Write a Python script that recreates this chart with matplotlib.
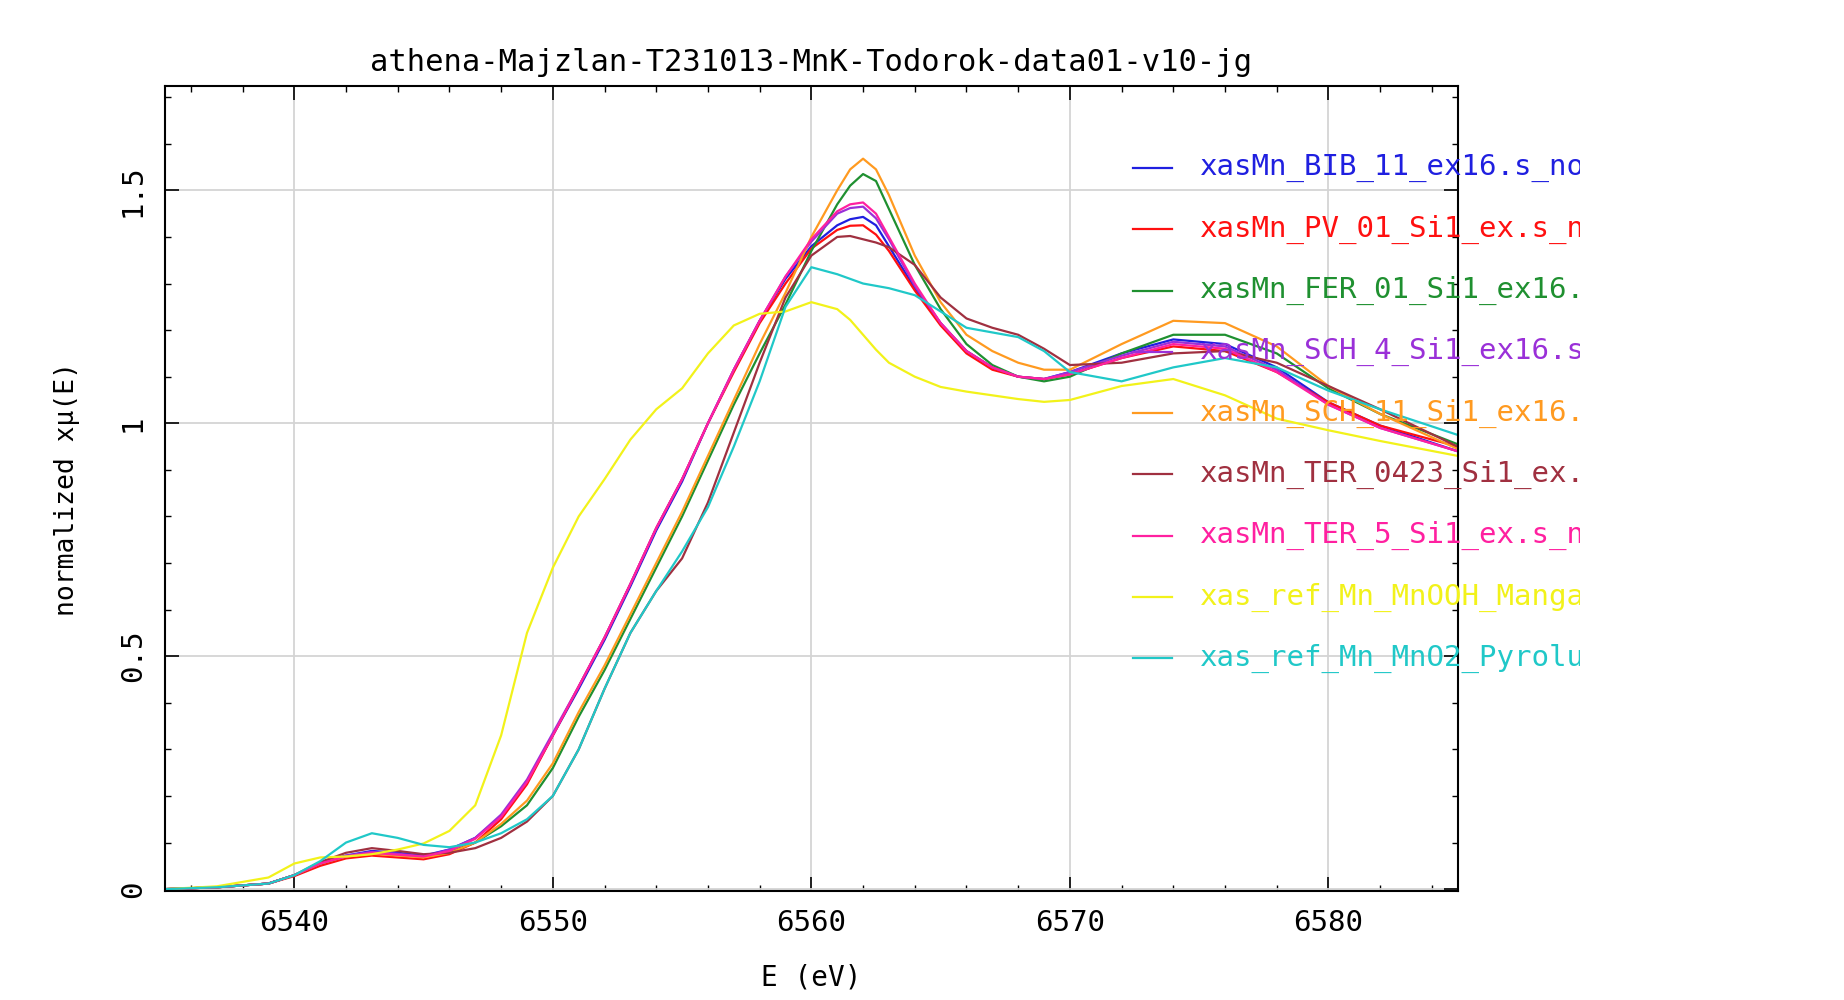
import matplotlib
matplotlib.use('Agg')
import matplotlib.pyplot as plt
from matplotlib.lines import Line2D
from matplotlib.transforms import Bbox, TransformedBbox
from matplotlib.ticker import MultipleLocator, FormatStrFormatter

plt.rcParams['font.family'] = ['DejaVu Sans Mono', 'DejaVu Sans']

# energy grid (eV)
energy = [6535, 6537, 6539, 6540, 6541, 6542, 6543, 6544, 6545, 6546,
          6547, 6548, 6549, 6550, 6551, 6552, 6553, 6554, 6555, 6556,
          6557, 6558, 6559, 6560, 6561, 6561.5, 6562, 6562.5, 6563, 6564,
          6565, 6566, 6567, 6568, 6569, 6570, 6572, 6574, 6576, 6578,
          6580, 6582, 6585]

bib_11 = [0.0, 0.004, 0.012, 0.03, 0.055, 0.072, 0.082, 0.078, 0.072, 0.085,
          0.11, 0.156, 0.23, 0.33, 0.43, 0.535, 0.65, 0.77, 0.875, 1.0,
          1.115, 1.22, 1.31, 1.38, 1.425, 1.438, 1.443, 1.425, 1.38, 1.29,
          1.215, 1.155, 1.12, 1.10, 1.095, 1.11, 1.15, 1.18, 1.17, 1.12,
          1.045, 0.995, 0.94]
pv_01 = [0.0, 0.004, 0.012, 0.028, 0.05, 0.066, 0.072, 0.068, 0.064, 0.075,
         0.10, 0.15, 0.225, 0.33, 0.435, 0.54, 0.655, 0.775, 0.88, 1.0,
         1.11, 1.215, 1.30, 1.375, 1.415, 1.424, 1.425, 1.405, 1.37, 1.285,
         1.21, 1.15, 1.115, 1.10, 1.095, 1.105, 1.14, 1.165, 1.155, 1.11,
         1.045, 0.995, 0.95]
fer_01 = [0.0, 0.004, 0.012, 0.03, 0.055, 0.07, 0.078, 0.074, 0.07, 0.08,
          0.10, 0.135, 0.18, 0.26, 0.37, 0.47, 0.58, 0.69, 0.80, 0.92,
          1.04, 1.15, 1.255, 1.37, 1.47, 1.51, 1.535, 1.52, 1.46, 1.34,
          1.245, 1.17, 1.125, 1.10, 1.09, 1.10, 1.15, 1.19, 1.19, 1.15,
          1.075, 1.02, 0.955]
sch_4 = [0.0, 0.004, 0.012, 0.03, 0.055, 0.072, 0.08, 0.076, 0.07, 0.085,
         0.11, 0.16, 0.235, 0.335, 0.435, 0.54, 0.655, 0.775, 0.88, 1.0,
         1.115, 1.22, 1.315, 1.39, 1.45, 1.462, 1.465, 1.44, 1.395, 1.295,
         1.215, 1.155, 1.12, 1.10, 1.095, 1.11, 1.145, 1.175, 1.165, 1.115,
         1.04, 0.99, 0.94]
sch_11 = [0.0, 0.004, 0.012, 0.03, 0.055, 0.07, 0.076, 0.072, 0.068, 0.078,
          0.10, 0.14, 0.19, 0.27, 0.38, 0.48, 0.59, 0.70, 0.81, 0.93,
          1.05, 1.17, 1.28, 1.40, 1.50, 1.545, 1.568, 1.545, 1.49, 1.36,
          1.26, 1.19, 1.155, 1.13, 1.115, 1.115, 1.17, 1.22, 1.215, 1.165,
          1.08, 1.02, 0.945]
ter_0423 = [0.0, 0.004, 0.012, 0.03, 0.058, 0.078, 0.088, 0.082, 0.075, 0.078,
            0.088, 0.11, 0.145, 0.20, 0.30, 0.43, 0.55, 0.64, 0.71, 0.83,
            0.98, 1.13, 1.27, 1.36, 1.40, 1.402, 1.395, 1.388, 1.378, 1.34,
            1.27, 1.225, 1.205, 1.19, 1.16, 1.125, 1.13, 1.15, 1.155, 1.13,
            1.08, 1.03, 0.95]
ter_5 = [0.0, 0.004, 0.012, 0.03, 0.055, 0.07, 0.078, 0.074, 0.07, 0.082,
         0.108, 0.155, 0.23, 0.33, 0.435, 0.54, 0.655, 0.775, 0.88, 1.0,
         1.115, 1.22, 1.315, 1.395, 1.455, 1.47, 1.474, 1.45, 1.40, 1.30,
         1.215, 1.155, 1.12, 1.10, 1.095, 1.105, 1.14, 1.17, 1.16, 1.11,
         1.04, 0.99, 0.94]
mnooh = [0.0, 0.006, 0.025, 0.055, 0.068, 0.07, 0.075, 0.085, 0.098, 0.125,
         0.18, 0.33, 0.55, 0.69, 0.80, 0.88, 0.965, 1.03, 1.075, 1.15,
         1.21, 1.235, 1.24, 1.26, 1.245, 1.222, 1.19, 1.158, 1.13, 1.10,
         1.078, 1.068, 1.06, 1.052, 1.046, 1.05, 1.08, 1.095, 1.06, 1.01,
         0.985, 0.962, 0.93]
mno2 = [0.0, 0.004, 0.012, 0.03, 0.06, 0.10, 0.12, 0.11, 0.095, 0.09,
        0.10, 0.12, 0.15, 0.20, 0.30, 0.43, 0.55, 0.64, 0.725, 0.82,
        0.95, 1.09, 1.25, 1.335, 1.32, 1.31, 1.30, 1.295, 1.29, 1.275,
        1.24, 1.205, 1.195, 1.185, 1.155, 1.11, 1.09, 1.12, 1.14, 1.12,
        1.07, 1.03, 0.975]

labels = ['xasMn_BIB_11_ex16.s_nor', 'xasMn_PV_01_Si1_ex.s_nor',
          'xasMn_FER_01_Si1_ex16.s_nor', 'xasMn_SCH_4_Si1_ex16.s_nor',
          'xasMn_SCH_11_Si1_ex16.s_nor', 'xasMn_TER_0423_Si1_ex.s_nor',
          'xasMn_TER_5_Si1_ex.s_nor', 'xas_ref_Mn_MnOOH_Manganite.nor',
          'xas_ref_Mn_MnO2_Pyrolusite.nor']
series = [bib_11, pv_01, fer_01, sch_4, sch_11, ter_0423, ter_5, mnooh, mno2]
colors = ['#1f1fe0', '#ff1010', '#1f9030', '#9a30d8', '#ff9a20',
          '#a03040', '#ff20a0', '#f2f21a', '#20c8c8']

fig = plt.figure(figsize=(18.44, 10), dpi=100)
ax = fig.add_axes([0.0895, 0.109, 0.701, 0.805])

for y, c in zip(series, colors):
    ax.plot(energy, y, color=c, lw=1.6, solid_joinstyle='round')

ax.set_xlim(6535, 6585)
ax.set_ylim(-0.004, 1.724)
ax.xaxis.set_major_locator(MultipleLocator(10))
ax.xaxis.set_minor_locator(MultipleLocator(2))
ax.yaxis.set_major_locator(MultipleLocator(0.5))
ax.yaxis.set_minor_locator(MultipleLocator(0.1))
ax.yaxis.set_major_formatter(FormatStrFormatter('%g'))
ax.grid(True, which='major', color='#d4d4d4', lw=1.3)
ax.set_axisbelow(True)
ax.tick_params(which='both', direction='in', top=True, right=True, labelsize=21)
ax.tick_params(which='major', length=10, width=1.2)
ax.tick_params(which='minor', length=4, width=1.0)
ax.tick_params(axis='x', pad=13)
ax.tick_params(axis='y', pad=13)
for lab in ax.get_yticklabels():
    lab.set_rotation(90)
    lab.set_va('center')
for sp in ax.spines.values():
    sp.set_linewidth(1.5)

ax.set_title('athena-Majzlan-T231013-MnK-Todorok-data01-v10-jg', fontsize=22, pad=11)
ax.set_xlabel('E (eV)', fontsize=20, labelpad=19)
ax.set_ylabel('normalized x\u03bc(E)', fontsize=19, labelpad=28)

# legend drawn by hand so the long names get cut off like in the original
clip = TransformedBbox(Bbox.from_extents(0, 0, 1580 / 1844, 1), fig.transFigure)
for i, (lab, c) in enumerate(zip(labels, colors)):
    yy = 1 - (168 + 61.3 * i) / 1000
    fig.add_artist(Line2D([1133 / 1844, 1172 / 1844], [yy, yy], color=c, lw=1.6,
                          transform=fig.transFigure))
    t = fig.text(1200 / 1844, yy, lab, color=c, fontsize=21, va='center', ha='left')
    t.set_clip_box(clip)
    t.set_clip_on(True)

fig.savefig('out.png', dpi=100)
